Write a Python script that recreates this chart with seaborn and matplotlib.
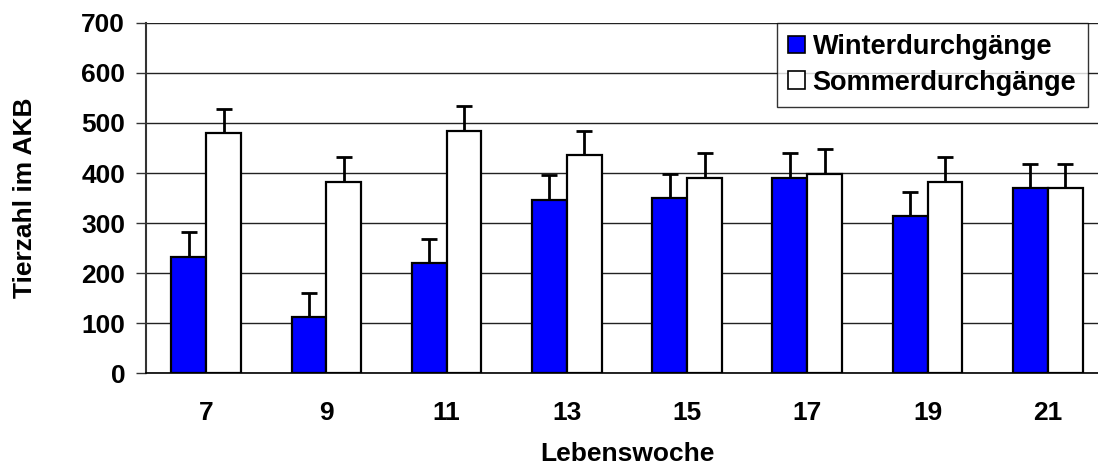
import numpy as np
import pandas as pd
import matplotlib
matplotlib.use("Agg")
import matplotlib.pyplot as plt
import seaborn as sns

# data
wochen = ["7", "9", "11", "13", "15", "17", "19", "21"]
winter = [233, 112, 221, 347, 350, 391, 314, 370]
winter_err = [49, 49, 48, 49, 49, 48, 49, 49]
sommer = [479, 383, 483, 435, 391, 399, 383, 370]
sommer_err = [49, 48, 50, 48, 48, 48, 48, 49]
gruppen = ["Winterdurchgänge", "Sommerdurchgänge"]

df = pd.DataFrame({
    "Lebenswoche": wochen * 2,
    "Tierzahl": winter + sommer,
    "Gruppe": [gruppen[0]] * len(wochen) + [gruppen[1]] * len(wochen),
})
errs = [winter_err, sommer_err]

sns.set_style("white")
plt.rcParams["font.family"] = ["Liberation Sans", "DejaVu Sans"]
plt.rcParams["font.weight"] = "bold"
plt.rcParams["text.color"] = "black"
plt.rcParams["axes.labelcolor"] = "black"
plt.rcParams["xtick.color"] = "black"
plt.rcParams["ytick.color"] = "black"

fig = plt.figure(figsize=(10.98, 4.68), dpi=100)
ax = fig.add_axes([0.133, 0.2023, 0.876, 0.749])

sns.barplot(data=df, x="Lebenswoche", y="Tierzahl", hue="Gruppe",
            palette=["#0000ff", "#ffffff"], saturation=1, edgecolor="black",
            linewidth=1.6, width=0.58, gap=0, errorbar=None, ax=ax, zorder=3)

# one-sided error bars on top of each bar
for cont, err in zip(ax.containers, errs):
    xs = [b.get_x() + b.get_width() / 2 for b in cont]
    ys = [b.get_height() for b in cont]
    ax.errorbar(xs, ys, yerr=[np.zeros(len(err)), err], fmt="none",
                ecolor="black", elinewidth=2, capsize=5.6, capthick=2, zorder=2)

ax.set_ylim(0, 700)
ax.set_xlim(-0.5, 7.5)
ax.set_yticks(range(0, 701, 100))
ax.yaxis.grid(True, color="#222222", linewidth=1)
ax.set_axisbelow(True)

ax.set_xticks(range(len(wochen)))
ax.set_xticks(np.arange(-0.5, 8, 1), minor=True)
ax.tick_params(axis="x", which="major", length=0, pad=20, labelsize=19)
ax.tick_params(axis="x", which="minor", length=6, width=1, color="black", direction="out")
ax.tick_params(axis="y", length=7, width=1, color="#333333", direction="out", pad=8, labelsize=19)
ax.tick_params(left=True, bottom=True)
for lab in ax.get_xticklabels() + ax.get_yticklabels():
    lab.set_fontweight("bold")
    lab.set_color("black")

for s in ["top", "right"]:
    ax.spines[s].set_visible(False)
ax.spines["left"].set_color("#333333")
ax.spines["left"].set_linewidth(1.5)
ax.spines["bottom"].set_color("black")
ax.spines["bottom"].set_linewidth(1.2)

ax.set_xlabel("Lebenswoche", fontsize=19, fontweight="bold", color="black")
ax.set_ylabel("Tierzahl im AKB", fontsize=19, fontweight="bold", color="black")
ax.xaxis.set_label_coords(0.5, -0.195)
ax.yaxis.set_label_coords(-0.113, 0.5)

leg = ax.legend(loc="upper right", bbox_to_anchor=(0.979, 1.0), borderaxespad=0,
                frameon=True, fancybox=False, edgecolor="black", fontsize=19.5,
                handlelength=0.6, handleheight=0.6, handletextpad=0.3,
                borderpad=0.42, labelspacing=0.35)
leg.get_frame().set_linewidth(1)
for t in leg.get_texts():
    t.set_fontweight("bold")
    t.set_color("black")
for h in leg.legend_handles:
    h.set_linewidth(1.2)

fig.savefig("out.png", dpi=100)
